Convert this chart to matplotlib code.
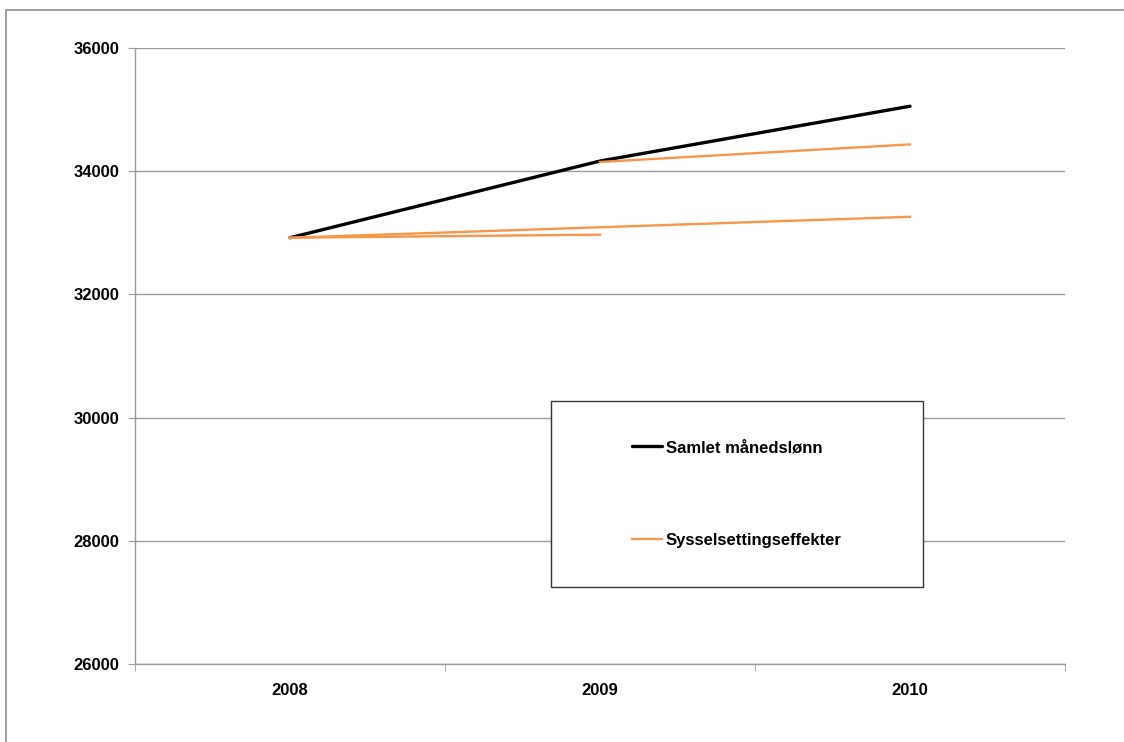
import matplotlib
matplotlib.use("Agg")
import matplotlib.pyplot as plt
from matplotlib.patches import Rectangle

plt.rcParams['font.family'] = ['Liberation Sans', 'DejaVu Sans']
plt.rcParams['font.weight'] = 'bold'

years = ["2008", "2009", "2010"]

# samlet månedslønn
samlet_x = [0, 1, 2]
samlet = [32920, 34165, 35055]

# sysselsettingseffekter (three separate segments)
eff1_x = [0, 1]
eff1 = [32920, 32970]
eff2_x = [1, 2]
eff2 = [34150, 34435]
eff3_x = [0, 2]
eff3 = [32920, 33260]

orange = "#F79646"
grid_col = "#999999"

fig = plt.figure(figsize=(11.24, 7.42), dpi=100)
fig.patches.append(Rectangle((6 / 1124, -0.1), 1.2, 1.1 - 10 / 742,
                             transform=fig.transFigure, fill=False,
                             edgecolor="#8c8c8c", linewidth=1.2))

ax = fig.add_axes([135 / 1124, 1 - 664 / 742, 930 / 1124, 616 / 742])

ax.plot(samlet_x, samlet, color="black", linewidth=2.4, label="Samlet månedslønn",
        solid_capstyle="round", zorder=3)
ax.plot(eff1_x, eff1, color=orange, linewidth=1.7, label="Sysselsettingseffekter", zorder=4)
ax.plot(eff2_x, eff2, color=orange, linewidth=1.7, zorder=4)
ax.plot(eff3_x, eff3, color=orange, linewidth=1.7, zorder=4)

ax.set_xlim(-0.5, 2.5)
ax.set_ylim(26000, 36000)
ax.set_yticks(range(26000, 36001, 2000))
ax.yaxis.grid(True, color=grid_col, linewidth=1)
ax.set_axisbelow(True)

ax.set_xticks(range(len(years)))
ax.set_xticklabels(years)
ax.set_xticks([-0.5, 0.5, 1.5, 2.5], minor=True)
ax.tick_params(axis="x", which="major", length=0, pad=14, labelsize=12)
ax.tick_params(axis="x", which="minor", length=5, color=grid_col)
ax.tick_params(axis="y", length=5, color=grid_col, labelsize=12, pad=6)

for s in ["top", "right"]:
    ax.spines[s].set_visible(False)
for s in ["left", "bottom"]:
    ax.spines[s].set_color(grid_col)
    ax.spines[s].set_linewidth(1)

# legend box
lx, ly, lw, lh = 551 / 1124, 1 - 587 / 742, 372 / 1124, 186 / 742
ax.add_patch(Rectangle((lx, ly), lw, lh, transform=fig.transFigure, clip_on=False,
                       facecolor="white", edgecolor="#333333", linewidth=1, zorder=5))
leg = ax.legend(loc="center", bbox_to_anchor=(lx + lw / 2, ly + lh / 2),
                bbox_transform=fig.transFigure, frameon=False, fontsize=12,
                labelspacing=4.65, handlelength=1.8, handletextpad=0.2)
leg.set_zorder(6)

fig.savefig("out.png", dpi=100)
